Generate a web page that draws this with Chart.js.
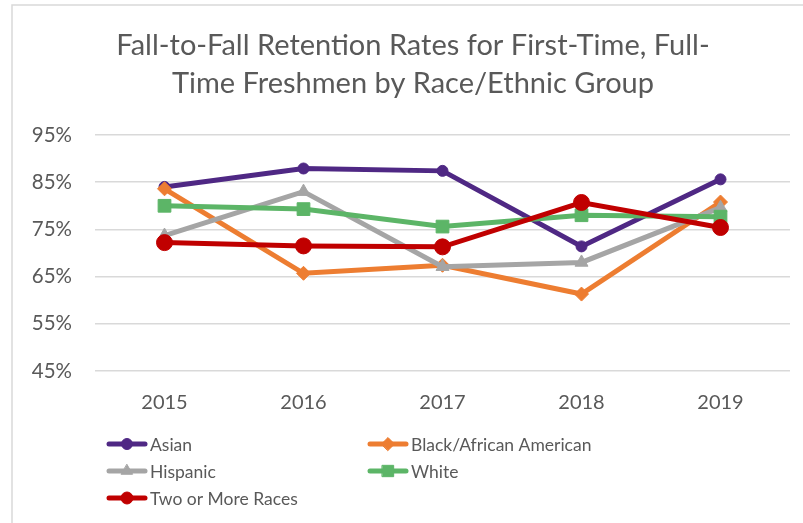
<!DOCTYPE html>
<html>
<head>
<meta charset="utf-8">
<script src="https://cdn.jsdelivr.net/npm/chart.js@4/dist/chart.umd.min.js"></script>
<style>
  html, body { margin: 0; padding: 0; background: #fff; }
  #wrap { position: relative; width: 803px; height: 523px; }
</style>
</head>
<body>
<div id="wrap"><canvas id="chart" width="803" height="523"></canvas></div>
<script>
// chart data
const years = ['2015', '2016', '2017', '2018', '2019'];
const asian = [84.0, 87.9, 87.4, 71.4, 85.6];
const black = [83.6, 65.7, 67.4, 61.3, 80.8];
const hispanic = [73.7, 83.0, 67.1, 68.0, 79.6];
const white = [80.0, 79.3, 75.6, 78.0, 77.7];
const twoOrMore = [72.2, 71.5, 71.3, 80.7, 75.4];
const titleLines = ['Fall-to-Fall Retention Rates for First-Time, Full-', 'Time Freshmen by Race/Ethnic Group'];

const textColor = '#595959';
const fontFamily = 'Lato, "Open Sans", sans-serif';

function series(label, data, color, style, radius, legendRadius, order) {
    return {
        label: label,
        data: data,
        borderColor: color,
        backgroundColor: color,
        borderWidth: 5,
        pointStyle: style,
        pointRadius: radius,
        pointHoverRadius: radius,
        pointBorderWidth: 1,
        pointBackgroundColor: color,
        pointBorderColor: color,
        legendRadius: legendRadius,
        tension: 0,
        order: order
    };
}

// frame + title drawn behind the plot
const framePlugin = {
    id: 'frame',
    beforeDraw(chart) {
        const ctx = chart.ctx;
        ctx.save();
        ctx.strokeStyle = '#d9d9d9';
        ctx.lineWidth = 1.5;
        ctx.beginPath();
        ctx.moveTo(12, 530);
        ctx.lineTo(12, 5);
        ctx.lineTo(810, 5);
        ctx.stroke();

        ctx.fillStyle = textColor;
        ctx.font = '29px ' + fontFamily;
        ctx.textAlign = 'center';
        ctx.textBaseline = 'alphabetic';
        titleLines.forEach((line, i) => {
            ctx.fillText(line, 413, 55 + i * 37.5);
        });
        ctx.restore();
    }
};

// two-column legend under the axis, like the Excel original
const legendPlugin = {
    id: 'gridLegend',
    afterDraw(chart) {
        const ctx = chart.ctx;
        const cols = [107, 368];
        const rows = [444, 471, 498];
        ctx.save();
        ctx.font = '17.5px ' + fontFamily;
        ctx.textBaseline = 'middle';
        ctx.textAlign = 'left';
        chart.data.datasets.forEach((ds, i) => {
            const x = cols[i % 2];
            const y = rows[Math.floor(i / 2)];
            ctx.strokeStyle = ds.borderColor;
            ctx.lineWidth = 5;
            ctx.lineCap = 'round';
            ctx.beginPath();
            ctx.moveTo(x + 2, y);
            ctx.lineTo(x + 38, y);
            ctx.stroke();
            ctx.fillStyle = ds.borderColor;
            ctx.lineWidth = 1;
            Chart.helpers.drawPoint(ctx, {
                pointStyle: ds.pointStyle,
                rotation: 0,
                borderWidth: 1,
                radius: ds.legendRadius
            }, x + 20, y);
            ctx.fillStyle = textColor;
            ctx.fillText(ds.label, x + 43, y + 1);
        });
        ctx.restore();
    }
};

new Chart(document.getElementById('chart'), {
    type: 'line',
    data: {
        labels: years,
        datasets: [
            series('Asian', asian, '#4f2884', 'circle', 5.5, 5.5, 4),
            series('Black/African American', black, '#ed7d31', 'rectRot', 7, 6.5, 3),
            series('Hispanic', hispanic, '#a5a5a5', 'triangle', 7.5, 6.5, 2),
            series('White', white, '#5cb567', 'rect', 9, 8, 1),
            series('Two or More Races', twoOrMore, '#c00000', 'circle', 8, 6, 0)
        ]
    },
    options: {
        responsive: false,
        animation: false,
        layout: {
            padding: { left: 12, right: 13, top: 135, bottom: 107 }
        },
        plugins: {
            legend: { display: false },
            title: { display: false },
            tooltip: { enabled: false }
        },
        scales: {
            x: {
                offset: true,
                grid: { display: false, drawTicks: false },
                border: { display: false },
                ticks: {
                    color: textColor,
                    font: { family: fontFamily, size: 20 },
                    padding: 20
                },
                afterFit(scale) { scale.height = 45; }
            },
            y: {
                min: 45,
                max: 95,
                grid: { color: '#d9d9d9', lineWidth: 1.5, drawTicks: false },
                border: { display: false },
                ticks: {
                    stepSize: 10,
                    color: textColor,
                    font: { family: fontFamily, size: 20.5 },
                    padding: 23,
                    callback: v => v + '%'
                },
                afterFit(scale) { scale.width = 83; }
            }
        }
    },
    plugins: [framePlugin, legendPlugin]
});
</script>
</body>
</html>
